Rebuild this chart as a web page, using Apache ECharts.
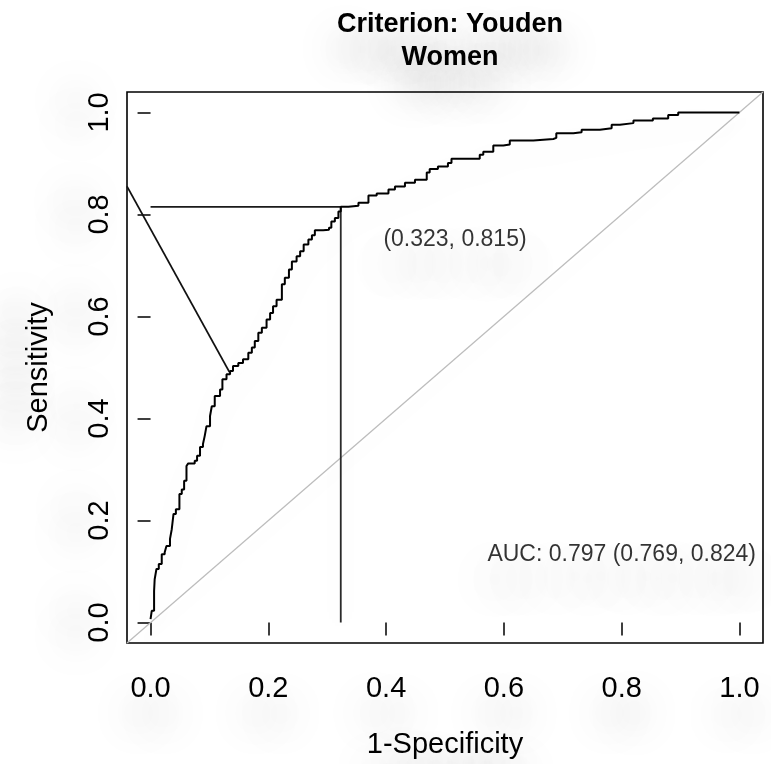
<!DOCTYPE html>
<html>
<head>
<meta charset="utf-8">
<script src="https://cdn.jsdelivr.net/npm/echarts@6/dist/echarts.min.js"></script>
<style>
html,body{margin:0;padding:0;background:#fff;}
#chart{width:771px;height:764px;}
</style>
</head>
<body>
<div id="chart"></div>
<script>
// ---- data ----
var titleLines = ['Criterion: Youden', 'Women'];
var xAxisName = '1-Specificity';
var yAxisName = 'Sensitivity';
var tickValues = [0, 0.2, 0.4, 0.6, 0.8, 1.0];
var axisRange = [-0.04, 1.04];

// ROC curve: 1-specificity (x) and sensitivity (y)
var rocFpr = [0.000,0.002,0.006,0.007,0.010,0.014,0.019,0.024,0.027,0.033,0.036,0.039,0.043,0.049,0.053,0.057,0.061,0.064,0.075,0.079,0.084,0.089,0.092,0.095,0.101,0.104,0.109,0.118,0.122,0.129,0.135,0.140,0.149,0.157,0.166,0.172,0.177,0.183,0.189,0.197,0.203,0.208,0.214,0.223,0.228,0.235,0.240,0.248,0.254,0.260,0.268,0.274,0.279,0.293,0.303,0.307,0.313,0.319,0.323,0.336,0.353,0.370,0.384,0.404,0.415,0.432,0.449,0.469,0.474,0.488,0.505,0.511,0.551,0.559,0.565,0.582,0.599,0.610,0.650,0.684,0.689,0.718,0.732,0.763,0.783,0.797,0.820,0.853,0.879,0.896,1.000];
var rocTpr = [0.007,0.023,0.062,0.085,0.105,0.115,0.134,0.138,0.150,0.164,0.183,0.213,0.222,0.252,0.261,0.278,0.307,0.312,0.317,0.327,0.344,0.350,0.366,0.385,0.405,0.424,0.444,0.457,0.477,0.487,0.493,0.503,0.509,0.516,0.529,0.539,0.552,0.568,0.578,0.594,0.607,0.620,0.633,0.663,0.676,0.692,0.708,0.718,0.728,0.741,0.751,0.759,0.769,0.770,0.774,0.786,0.793,0.806,0.815,0.817,0.823,0.837,0.841,0.849,0.855,0.862,0.868,0.882,0.889,0.894,0.901,0.909,0.909,0.917,0.923,0.935,0.937,0.945,0.948,0.950,0.959,0.961,0.966,0.969,0.976,0.979,0.984,0.988,0.995,1.000,1.000];

var diagX = [-0.04, 1.04];
var diagY = [-0.04, 1.04];

var threshold = [0.323, 0.815];
var thresholdLabel = '(0.323, 0.815)';
var thresholdLabelPos = [0.517, 0.751];

var tangentX = [-0.04, 0.134];
var tangentY = [0.855, 0.491];

var aucLabel = 'AUC: 0.797 (0.769, 0.824)';
var aucLabelPos = [0.80, 0.134];

// ---- chart ----
var FONT = '"Liberation Sans", Arial, Helvetica, sans-serif';
var shadowText = {textShadowColor: 'rgba(0,0,0,0.42)', textShadowBlur: 40, textShadowOffsetY: 26};
var shadowTextY = {textShadowColor: 'rgba(0,0,0,0.38)', textShadowBlur: 40, textShadowOffsetX: -22};
var lineShadow = {shadowColor: 'rgba(0,0,0,0.10)', shadowBlur: 30, shadowOffsetY: 12};

function zip(a, b) { return a.map(function (v, i) { return [v, b[i]]; }); }

var chart = echarts.init(document.getElementById('chart'), null, {renderer: 'canvas'});

var option = {
  backgroundColor: '#ffffff',
  animation: false,
  title: {
    text: titleLines.join('\n'),
    left: 445,
    top: 3,
    textAlign: 'center',
    textStyle: Object.assign({fontFamily: FONT, fontSize: 27, fontWeight: 'bold', color: '#000', lineHeight: 33}, shadowText)
  },
  grid: {
    left: 127, top: 92, width: 636, height: 552,
    show: true, borderColor: '#000', borderWidth: 1.6, backgroundColor: 'transparent'
  },
  xAxis: {
    type: 'value', min: axisRange[0], max: axisRange[1],
    splitLine: {show: false},
    axisLine: {show: false},
    axisTick: {show: true, customValues: tickValues, length: 13, inside: false, lineStyle: {color: '#000', width: 1.5}},
    axisLabel: Object.assign({customValues: tickValues, formatter: function (v) { return v.toFixed(1); },
      fontFamily: FONT, fontSize: 29, color: '#000', margin: 31}, shadowText),
    name: xAxisName, nameLocation: 'middle', nameGap: 87,
    nameTextStyle: Object.assign({fontFamily: FONT, fontSize: 29, color: '#000'}, shadowText)
  },
  yAxis: {
    type: 'value', min: axisRange[0], max: axisRange[1],
    splitLine: {show: false},
    axisLine: {show: false},
    axisTick: {show: true, customValues: tickValues, length: 13, inside: false, lineStyle: {color: '#000', width: 1.5}},
    axisLabel: Object.assign({customValues: tickValues, formatter: function (v) { return v.toFixed(1); },
      fontFamily: FONT, fontSize: 29, color: '#000', margin: 13, rotate: 90}, shadowTextY),
    name: yAxisName, nameLocation: 'middle', nameGap: 74, nameRotate: 90,
    nameTextStyle: Object.assign({fontFamily: FONT, fontSize: 29, color: '#000'}, shadowTextY)
  },
  series: [
    {
      type: 'line', data: zip(diagX, diagY), symbol: 'none', silent: true,
      lineStyle: Object.assign({color: '#bdbdbd', width: 1.3}, lineShadow), z: 1
    },
    {
      type: 'line', data: zip(rocFpr, rocTpr), symbol: 'none', silent: true, step: 'end',
      lineStyle: Object.assign({color: '#000', width: 2}, lineShadow), z: 3
    },
    {
      type: 'line', data: [[0, threshold[1]], [threshold[0], threshold[1]]], symbol: 'none', silent: true,
      lineStyle: {color: '#1a1a1a', width: 1.8}, z: 2
    },
    {
      type: 'line', data: [[threshold[0], threshold[1]], [threshold[0], 0]], symbol: 'none', silent: true,
      lineStyle: Object.assign({color: '#2a2a2a', width: 1.8}, lineShadow), z: 2
    },
    {
      type: 'line', data: zip(tangentX, tangentY), symbol: 'none', silent: true,
      lineStyle: {color: '#111', width: 1.8}, z: 2
    },
    {
      type: 'scatter', data: [thresholdLabelPos], symbolSize: 0, silent: true, z: 4,
      label: Object.assign({show: true, position: 'inside', formatter: thresholdLabel,
        fontFamily: FONT, fontSize: 23, color: '#000'}, shadowText)
    },
    {
      type: 'scatter', data: [aucLabelPos], symbolSize: 0, silent: true, z: 4,
      label: Object.assign({show: true, position: 'inside', formatter: aucLabel,
        fontFamily: FONT, fontSize: 23, color: '#000'}, shadowText)
    }
  ]
};
chart.setOption(option);
</script>
</body>
</html>
